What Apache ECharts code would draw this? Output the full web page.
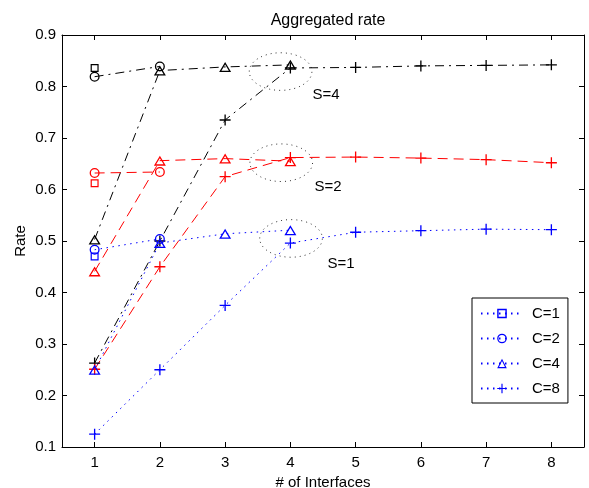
<!DOCTYPE html>
<html>
<head>
<meta charset="utf-8">
<script src="https://cdn.jsdelivr.net/npm/echarts@6/dist/echarts.min.js"></script>
<style>
  html, body { margin: 0; padding: 0; background: #fff; }
  #chart { width: 589px; height: 488px; }
</style>
</head>
<body>
<div id="chart"></div>
<script>
// Number of interfaces (x axis) and rate ticks (y axis)
const interfaces = [1, 2, 3, 4, 5, 6, 7, 8];
const rateTicks = [0.1, 0.2, 0.3, 0.4, 0.5, 0.6, 0.7, 0.8, 0.9];

// S=1 (blue, dotted)
const s1C1 = [0.470];
const s1C2 = [0.483, 0.504];
const s1C4 = [0.250, 0.496, 0.514, 0.521];
const s1C8 = [0.125, 0.250, 0.375, 0.496, 0.517, 0.520, 0.523, 0.522];

// S=2 (red, dashed)
const s2C1 = [0.612];
const s2C2 = [0.632, 0.634];
const s2C4 = [0.441, 0.656, 0.660, 0.655];
const s2C8 = [0.251, 0.450, 0.625, 0.662, 0.663, 0.661, 0.658, 0.652];

// S=4 (black, dash-dot)
const s4C1 = [0.836];
const s4C2 = [0.819, 0.839];
const s4C4 = [0.503, 0.831, 0.838, 0.842];
const s4C8 = [0.263, 0.500, 0.735, 0.836, 0.837, 0.840, 0.841, 0.842];

// Group annotations: dotted ellipses around the 4-interface points and their labels
const groupEllipses = [[3.85, 0.829], [3.86, 0.652], [4.01, 0.505]];
const ellipseRadius = [0.48, 0.0365];
const groupLabels = [
  { text: 'S=4', at: [4.34, 0.784] },
  { text: 'S=2', at: [4.37, 0.606] },
  { text: 'S=1', at: [4.57, 0.455] }
];

const FONT = '"Liberation Sans", Arial, Helvetica, sans-serif';
const BLUE = '#0000ff', RED = '#ff0000', BLACK = '#000000';
const DOT = [1.5, 4.5], DASH = [10, 6], DASHDOT = [9, 5, 2, 5];

// Hollow marker outlines (outer and inner contours wound in opposite directions)
const RECT = 'path://M-1,-1 L1,-1 L1,1 L-1,1 Z M-0.7,-0.7 L-0.7,0.7 L0.7,0.7 L0.7,-0.7 Z';
const CIRCLE = 'path://M-1,0 A1,1 0 1,0 1,0 A1,1 0 1,0 -1,0 Z M-0.74,0 A0.74,0.74 0 1,1 0.74,0 A0.74,0.74 0 1,1 -0.74,0 Z';
const TRIANGLE = 'path://M0,-1 L1,1 L-1,1 Z M0,-0.5 L-0.618,0.74 L0.618,0.74 Z';
const PLUS = 'path://M-0.12,-1 L0.12,-1 L0.12,-0.12 L1,-0.12 L1,0.12 L0.12,0.12 L0.12,1 L-0.12,1 L-0.12,0.12 L-1,0.12 L-1,-0.12 L-0.12,-0.12 Z';
const markers = {
  C1: { symbol: RECT, size: 8 },
  C2: { symbol: CIRCLE, size: 10 },
  C4: { symbol: TRIANGLE, size: [12, 10] },
  C8: { symbol: PLUS, size: 11 }
};

function lineSeries(name, values, color, dash, mk) {
  return {
    type: 'line',
    name: name,
    data: values.map((v, i) => [interfaces[i], v]),
    symbol: mk.symbol,
    symbolSize: mk.size,
    symbolKeepAspect: false,
    showAllSymbol: true,
    lineStyle: { color: color, width: 1, type: dash },
    itemStyle: { color: color, borderWidth: 0 },
    emphasis: { disabled: true },
    animation: false
  };
}

const series = [
  lineSeries('S=4 C=8', s4C8, BLACK, DASHDOT, markers.C8),
  lineSeries('S=4 C=4', s4C4, BLACK, DASHDOT, markers.C4),
  lineSeries('S=4 C=2', s4C2, BLACK, DASHDOT, markers.C2),
  lineSeries('S=4 C=1', s4C1, BLACK, DASHDOT, markers.C1),
  lineSeries('S=2 C=8', s2C8, RED, DASH, markers.C8),
  lineSeries('S=2 C=4', s2C4, RED, DASH, markers.C4),
  lineSeries('S=2 C=2', s2C2, RED, DASH, markers.C2),
  lineSeries('S=2 C=1', s2C1, RED, DASH, markers.C1),
  lineSeries('C=8', s1C8, BLUE, DOT, markers.C8),
  lineSeries('C=4', s1C4, BLUE, DOT, markers.C4),
  lineSeries('C=2', s1C2, BLUE, DOT, markers.C2),
  lineSeries('C=1', s1C1, BLUE, DOT, markers.C1)
];

const axisLineStyle = { lineStyle: { color: '#000', width: 1 } };
const tickStyle = { inside: true, length: 5, lineStyle: { color: '#000', width: 1 } };

const chart = echarts.init(document.getElementById('chart'), null, { renderer: 'canvas' });
chart.setOption({
  backgroundColor: '#fff',
  animation: false,
  textStyle: { fontFamily: FONT },
  title: {
    text: 'Aggregated rate',
    left: 323,
    top: 8,
    textAlign: 'center',
    textStyle: { fontFamily: FONT, fontSize: 16, fontWeight: 'normal', color: '#000' }
  },
  grid: { left: 62, top: 35, right: 5, bottom: 41, containLabel: false, outerBoundsMode: 'none' },
  legend: {
    data: ['C=1', 'C=2', 'C=4', 'C=8'],
    orient: 'vertical',
    left: 472,
    top: 298,
    width: 98,
    padding: [8, 8, 7, 8],
    itemWidth: 42,
    itemHeight: 12,
    itemGap: 10,
    borderColor: '#000',
    borderWidth: 1,
    backgroundColor: '#fff',
    selectedMode: false,
    textStyle: { fontFamily: FONT, fontSize: 15, color: '#000', padding: [0, 0, 0, 4] }
  },
  xAxis: [
    {
      type: 'value', min: 0.5, max: 8.5, position: 'bottom',
      name: '# of Interfaces', nameLocation: 'middle', nameGap: 25,
      nameTextStyle: { fontFamily: FONT, fontSize: 15, color: '#000' },
      axisLine: axisLineStyle,
      axisTick: Object.assign({ customValues: interfaces }, tickStyle),
      axisLabel: { customValues: interfaces, margin: 8, fontFamily: FONT, fontSize: 15, color: '#000' },
      splitLine: { show: false }
    },
    {
      type: 'value', min: 0.5, max: 8.5, position: 'top',
      axisLine: axisLineStyle,
      axisTick: Object.assign({ customValues: interfaces }, tickStyle),
      axisLabel: { show: false },
      splitLine: { show: false }
    }
  ],
  yAxis: [
    {
      type: 'value', min: 0.1, max: 0.9, position: 'left',
      name: 'Rate', nameLocation: 'middle', nameGap: 34, nameMoveOverlap: false,
      nameTextStyle: { fontFamily: FONT, fontSize: 15, color: '#000' },
      axisLine: axisLineStyle,
      axisTick: Object.assign({ customValues: rateTicks }, tickStyle),
      axisLabel: {
        customValues: rateTicks, margin: 6, fontFamily: FONT, fontSize: 15, color: '#000',
        formatter: v => v.toFixed(1)
      },
      splitLine: { show: false }
    },
    {
      type: 'value', min: 0.1, max: 0.9, position: 'right',
      axisLine: axisLineStyle,
      axisTick: Object.assign({ customValues: rateTicks }, tickStyle),
      axisLabel: { show: false },
      splitLine: { show: false }
    }
  ],
  series: series
});

// Place the group ellipses and labels in data coordinates
const toPx = p => chart.convertToPixel({ xAxisIndex: 0, yAxisIndex: 0 }, p);
const graphics = [];
groupEllipses.forEach(c => {
  const p = toPx(c);
  const q = toPx([c[0] + ellipseRadius[0], c[1] + ellipseRadius[1]]);
  graphics.push({
    type: 'ellipse',
    shape: { cx: p[0], cy: p[1], rx: Math.abs(q[0] - p[0]), ry: Math.abs(p[1] - q[1]) },
    style: { fill: 'none', stroke: '#333', lineWidth: 1, lineDash: [1, 4] },
    silent: true,
    z: 1
  });
});
groupLabels.forEach(l => {
  const p = toPx(l.at);
  graphics.push({
    type: 'text',
    x: p[0], y: p[1],
    style: { text: l.text, fill: '#000', font: '15px ' + FONT, align: 'left', verticalAlign: 'middle' },
    silent: true,
    z: 10
  });
});
chart.setOption({ graphic: graphics });
</script>
</body>
</html>
